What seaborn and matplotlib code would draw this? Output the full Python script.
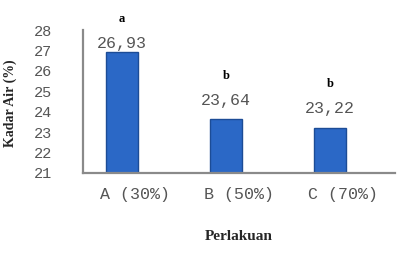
import numpy as np
import pandas as pd
import matplotlib
matplotlib.use("Agg")
from matplotlib import pyplot as plt
import seaborn as sns

# data
perlakuan = ["A (30%)", "B (50%)", "C (70%)"]
nilai = [26.93, 23.64, 23.22]
notasi = ["a", "b", "b"]
label_nilai = ["26,93", "23,64", "23,22"]

df = pd.DataFrame({"perlakuan": perlakuan, "nilai": nilai})

sns.set_style("white")
fig = plt.figure(figsize=(3.98, 2.57), dpi=100)
ax = fig.add_axes([0.2085, 0.327, 0.784, 0.556])

sns.barplot(data=df, x="perlakuan", y="nilai", color="#2b68c6",
            width=0.30, ax=ax, edgecolor="#1c4c96", linewidth=1.0,
            saturation=1)

# bars sit a bit left of the category centre in the original
shift = -0.125
for p in ax.patches:
    p.set_x(p.get_x() + shift)

ax.set_ylim(21, 28)
ax.set_xlim(-0.5, 2.5)

# value labels and letters
for i, (v, lab, n) in enumerate(zip(nilai, label_nilai, notasi)):
    y_lab = min(v + 0.92, 27.35)
    ax.text(i + shift, y_lab, lab, ha="center", va="center",
            fontsize=12, family="Liberation Mono", color="#555555")
    ax.text(i + shift, y_lab + 1.2, n, ha="center", va="center",
            fontsize=9, family="Liberation Serif", fontweight="bold",
            color="black", clip_on=False)

# axes styling
for s in ["top", "right"]:
    ax.spines[s].set_visible(False)
for s in ["left", "bottom"]:
    ax.spines[s].set_color("#8a8a8a")
    ax.spines[s].set_linewidth(1.6)

ax.set_yticks(range(21, 29))
ax.tick_params(axis="y", direction="inout", length=8, width=1.4,
               color="#8a8a8a", pad=18, labelsize=11, labelcolor="#555555")
for t in ax.get_yticklabels():
    t.set_family("Liberation Mono")

# tick marks between categories, labels on categories
ax.set_xticks([-0.5, 0.5, 1.5, 2.5])
ax.set_xticklabels([])
ax.set_xticks([0, 1, 2], minor=True)
ax.set_xticklabels(perlakuan, minor=True, family="Liberation Mono",
                   fontsize=12, color="#555555")
ax.tick_params(axis="x", which="major", direction="out", length=5,
               width=1.4, color="#8a8a8a")
ax.tick_params(axis="x", which="minor", length=0, pad=10)

ax.set_xlabel("Perlakuan", family="Liberation Serif", fontweight="bold",
              fontsize=11, labelpad=20)
ax.set_ylabel("")
fig.text(0.025, 0.6, "Kadar Air (%)", rotation=90, ha="center", va="center",
         family="Liberation Serif", fontweight="bold", fontsize=10)

fig.savefig("out.png", dpi=100)
